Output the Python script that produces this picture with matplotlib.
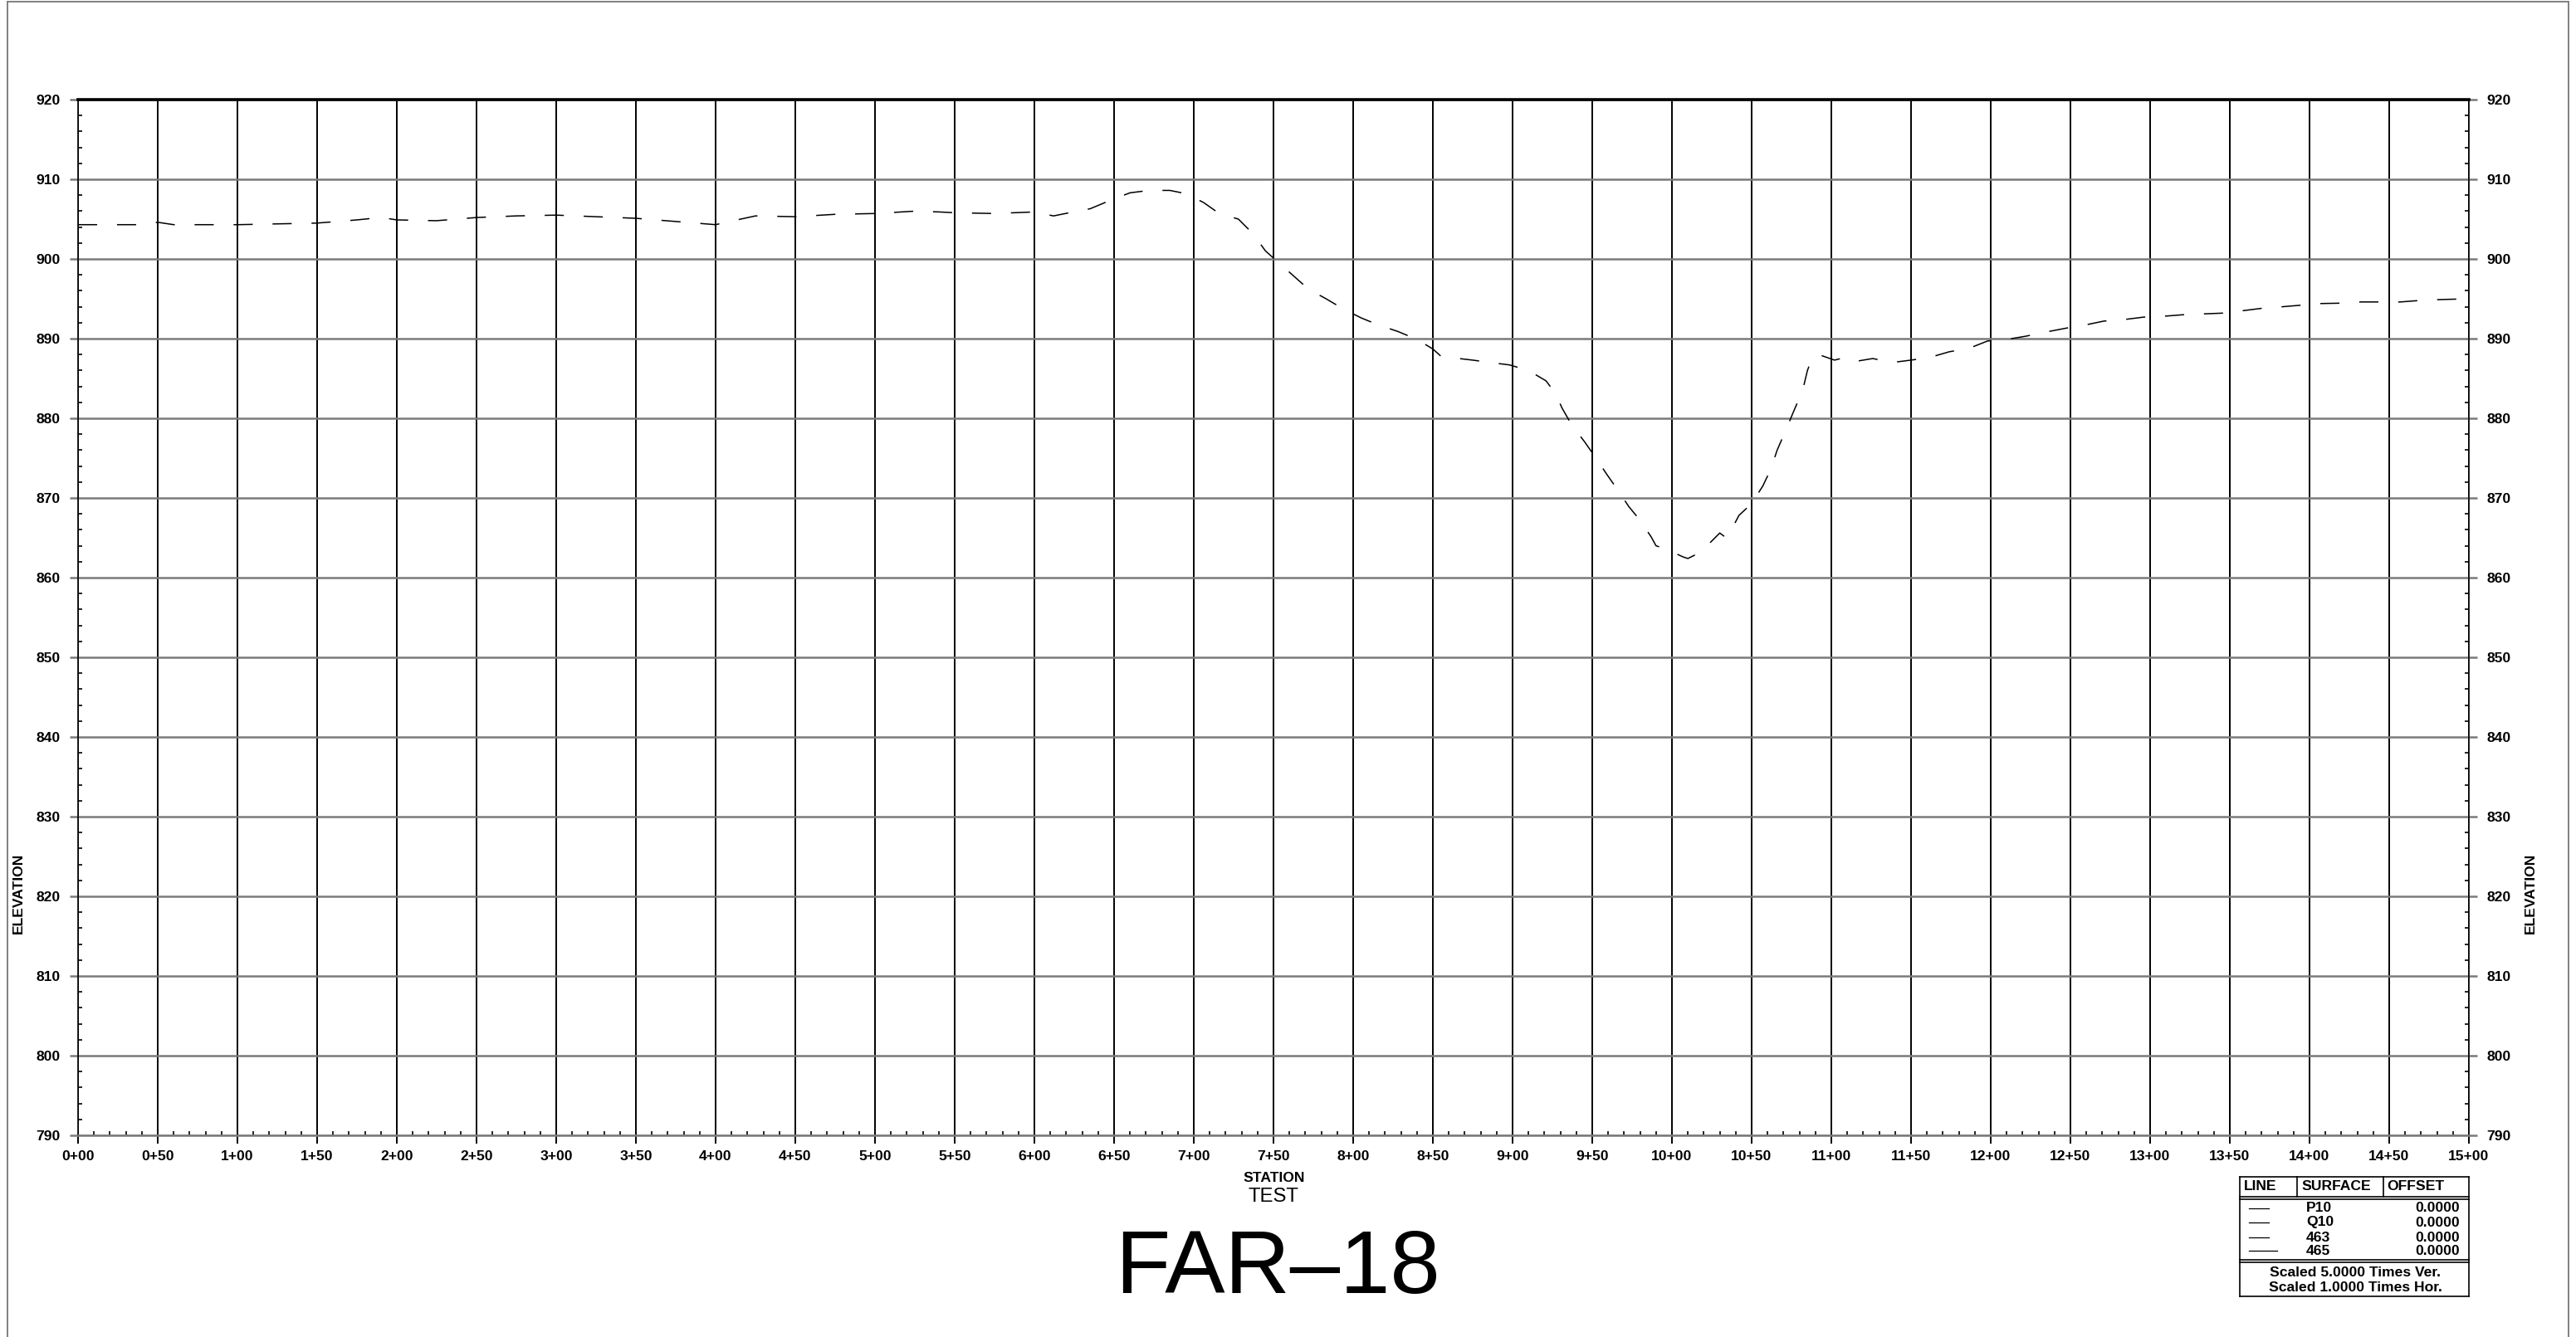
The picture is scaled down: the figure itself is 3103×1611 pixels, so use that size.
import matplotlib
matplotlib.use('Agg')
import matplotlib.pyplot as plt
from matplotlib.lines import Line2D
from matplotlib.ticker import MultipleLocator, FuncFormatter

# profile data (station in ft, elevation)
stations = [0, 25, 40, 50, 60, 75, 100, 125, 150, 175, 190, 200, 225, 250, 275, 300,
            325, 350, 375, 400, 410, 425, 450, 475, 500, 525, 540, 550, 575, 600,
            612, 622, 635, 647, 660, 672, 685, 695, 706, 716, 728, 737, 745, 754,
            763, 772, 783, 794, 805, 816, 828, 840, 850, 855, 862, 875, 886, 898,
            910, 921, 927, 931, 937, 945, 952, 959, 966, 973, 980, 987, 990, 996,
            1007, 1010, 1018, 1027, 1030, 1034, 1036, 1042, 1050, 1057, 1062, 1066,
            1071, 1076, 1082, 1085, 1088, 1092, 1102, 1108, 1114, 1126, 1138, 1150,
            1162, 1174, 1186, 1198, 1210, 1222, 1234, 1247, 1259, 1271, 1284, 1296,
            1308, 1321, 1333, 1346, 1358, 1370, 1383, 1395, 1407, 1420, 1432, 1444,
            1457, 1470, 1482, 1500]
elevations = [904.3, 904.3, 904.3, 904.6, 904.3, 904.3, 904.3, 904.4, 904.5, 904.9,
              905.2, 904.9, 904.8, 905.2, 905.4, 905.5, 905.3, 905.1, 904.7, 904.3,
              904.75, 905.4, 905.3, 905.6, 905.7, 906.0, 905.9, 905.8, 905.7, 905.9,
              905.4, 905.8, 906.3, 907.3, 908.3, 908.6, 908.6, 908.2, 907.1, 905.7,
              905.0, 903.2, 901.0, 899.4, 897.8, 896.2, 895.0, 893.7, 892.6, 891.7,
              890.9, 889.9, 888.7, 887.8, 887.6, 887.3, 887.0, 886.7, 886.0, 884.7,
              883.1, 881.3, 879.2, 877.1, 875.1, 873.0, 871.0, 868.9, 867.2, 865.1,
              864.0, 863.6, 862.6, 862.4, 863.2, 865.0, 865.6, 865.0, 865.5, 867.8,
              869.3, 871.5, 873.6, 876.0, 878.3, 880.7, 883.5, 886.0, 887.6, 888.0,
              887.3, 887.6, 887.1, 887.5, 887.0, 887.3, 887.65, 888.35, 888.75, 889.7,
              889.9, 890.3, 890.8, 891.3, 891.7, 892.2, 892.4, 892.7, 892.8, 893.0,
              893.1, 893.2, 893.5, 893.8, 894.0, 894.2, 894.4, 894.45, 894.6, 894.6,
              894.6, 894.8, 894.9, 895.0]

legend_surfaces = ['P10', 'Q10', '463', '465']
legend_offsets = ['0.0000', '0.0000', '0.0000', '0.0000']
legend_header = ['LINE', 'SURFACE', 'OFFSET']
scale_notes = ['Scaled 5.0000 Times Ver.', 'Scaled 1.0000 Times Hor.']

W, H = 3103, 1611
plt.rcParams['font.family'] = ['Liberation Sans', 'DejaVu Sans']
plt.rcParams['font.weight'] = 'bold'
plt.rcParams['lines.scale_dashes'] = False

fig = plt.figure(figsize=(W / 200, H / 200), dpi=200)


def px(x, y):
    # pixel position (from top-left) -> figure fraction
    return x / W, 1 - y / H


ax = fig.add_axes([94 / W, 1 - 1368 / H, (2974 - 94) / W, (1368 - 120) / H])
ax.plot(stations, elevations, color='black', lw=0.55, dashes=(8.3, 8.6), zorder=5)

ax.set_xlim(0, 1500)
ax.set_ylim(790, 920)
ax.xaxis.set_major_locator(MultipleLocator(50))
ax.xaxis.set_minor_locator(MultipleLocator(10))
ax.yaxis.set_major_locator(MultipleLocator(10))
ax.yaxis.set_minor_locator(MultipleLocator(2))
ax.xaxis.set_major_formatter(FuncFormatter(lambda v, p: f"{int(round(v)) // 100}+{int(round(v)) % 100:02d}"))

ax.xaxis.grid(True, which='major', color='black', lw=0.7)
ax.yaxis.grid(True, which='major', color='#7a7a7a', lw=0.9)

ax.spines['top'].set_color('black')
ax.spines['top'].set_linewidth(1.3)
ax.spines['bottom'].set_color('#7a7a7a')
ax.spines['bottom'].set_linewidth(0.9)
for s in ['left', 'right']:
    ax.spines[s].set_color('black')
    ax.spines[s].set_linewidth(0.6)

ax.tick_params(axis='y', which='major', direction='out', length=3.6, width=0.9,
               color='#7a7a7a', left=True, right=True, labelleft=True, labelright=True,
               pad=4, labelsize=6.3, labelcolor='black')
ax.tick_params(axis='y', which='minor', direction='in', length=1.8, width=0.6,
               color='black', left=True, right=True)
ax.tick_params(axis='x', which='major', direction='out', length=3.6, width=0.7,
               color='black', pad=3, labelsize=6.3)
ax.tick_params(axis='x', which='minor', direction='in', length=1.8, width=0.6,
               color='black', bottom=True, top=False)

# axis titles
fig.text(*px(22, 1076), 'ELEVATION', rotation=90, ha='center', va='center', fontsize=6.3)
fig.text(*px(3048, 1076), 'ELEVATION', rotation=90, ha='center', va='center', fontsize=6.3)
fig.text(*px(1535, 1419), 'STATION', ha='center', va='center', fontsize=6.3)
fig.text(*px(1534, 1442), 'TEST', ha='center', va='center', fontsize=8.6, fontweight='normal')
fig.text(*px(1539, 1530), 'FAR\u201318', ha='center', va='center', fontsize=39,
         fontweight='normal')


def seg(x0, y0, x1, y1, lw=0.6, color='black'):
    a = px(x0, y0)
    b = px(x1, y1)
    fig.add_artist(Line2D([a[0], b[0]], [a[1], b[1]], transform=fig.transFigure,
                          color=color, lw=lw))


# page frame
seg(9, 2, 9, H, lw=0.7, color='#808080')
seg(9, 2, 3094, 2, lw=0.7, color='#808080')
seg(3094, 2, 3094, H, lw=0.7, color='#808080')

# legend table
L, R, T, B = 2698, 2974, 1418, 1562
seg(L, T, R, T)
seg(L, B, R, B)
seg(L, T, L, B)
seg(R, T, R, B)
seg(2767, T, 2767, 1442)
seg(2871, T, 2871, 1442)
for yy in [1442, 1445, 1518, 1521]:
    seg(L, yy, R, yy)

for xx, lab in zip([2703, 2772, 2875], legend_header):
    fig.text(*px(xx, 1430), lab, ha='left', va='center', fontsize=6.3)

row_y = [1456, 1473, 1491, 1507]
for i, (name, off) in enumerate(zip(legend_surfaces, legend_offsets)):
    x_end = 2743 if i == 3 else 2733
    seg(2709, row_y[i], x_end, row_y[i], lw=0.45)
    fig.text(*px(2778, row_y[i]), name, ha='left', va='center', fontsize=6.3)
    fig.text(*px(2963, row_y[i]), off, ha='right', va='center', fontsize=6.3)

for yy, note in zip([1534, 1552], scale_notes):
    fig.text(*px(2837, yy), note, ha='center', va='center', fontsize=6.3)

fig.savefig('out.png', dpi=200)
